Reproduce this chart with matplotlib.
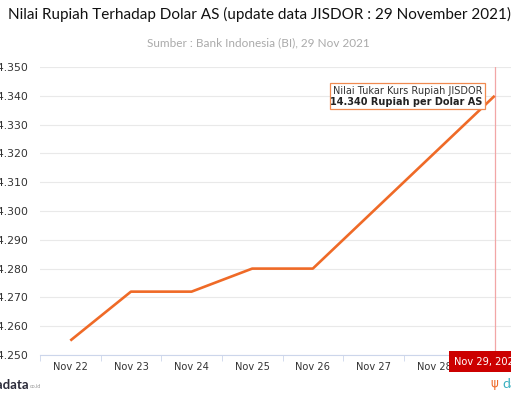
import matplotlib
matplotlib.use("Agg")
import matplotlib.pyplot as plt
import matplotlib.dates as mdates
import pandas as pd

# JISDOR rate, weekdays only (Nov 27-28 weekend)
dates = pd.to_datetime(["2021-11-22", "2021-11-23", "2021-11-24",
                        "2021-11-25", "2021-11-26", "2021-11-29"])
kurs = [14255, 14272, 14272, 14280, 14280, 14340]
tick_days = pd.date_range("2021-11-22", "2021-11-29", freq="D")
y_ticks = list(range(14250, 14351, 10))

W, H = 511, 398
fig = plt.figure(figsize=(W / 100, H / 100), dpi=100)
ax = fig.add_axes([40 / W, 43 / H, 485 / W, 288 / H])

orange = "#ef6a27"
ax.plot(dates, kurs, color=orange, lw=1.9, solid_capstyle="butt", zorder=3)

x0 = mdates.date2num(pd.Timestamp("2021-11-21 12:00"))
x1 = mdates.date2num(pd.Timestamp("2021-11-29 12:00"))
ax.set_xlim(x0, x1)
ax.set_ylim(14250, 14350)

ax.set_yticks(y_ticks)
ax.set_yticklabels([f"{v:,}".replace(",", ".") for v in y_ticks])
ax.grid(axis="y", color="#e9e9e9", lw=0.8)
ax.set_axisbelow(True)

ax.set_xticks(mdates.date2num(tick_days))
ax.set_xticklabels([d.strftime("%b %d") for d in tick_days])
ax.set_xticks(mdates.date2num(tick_days) - 0.5, minor=True)
ax.tick_params(axis="x", which="major", length=0, pad=5, labelsize=7.1, labelcolor="#333333")
ax.tick_params(axis="x", which="minor", length=4, color="#ccd6eb")
ax.tick_params(axis="y", length=0, pad=8, labelsize=7.8, labelcolor="#333333")

for s in ["top", "right", "left"]:
    ax.spines[s].set_visible(False)
ax.spines["bottom"].set_color("#ccd6eb")

# crosshair at last point
last = mdates.date2num(dates[-1])
ax.axvline(last, color="#f2a6a6", lw=0.9, zorder=2)

# tooltip
ax.annotate("Nilai Tukar Kurs Rupiah JISDOR\n", xy=(last, kurs[-1]),
            xytext=(-9, 0), textcoords="offset points", ha="right", va="center",
            fontsize=7.0, color="#333333", linespacing=1.05,
            bbox=dict(boxstyle="square,pad=0.3", fc="white", ec="#f08a50", lw=0.9),
            zorder=5)
ax.annotate("14.340 Rupiah per Dolar AS", xy=(last, kurs[-1]),
            xytext=(-9, -4.5), textcoords="offset points", ha="right", va="center",
            fontsize=7.0, color="#222222", fontweight="bold", zorder=6)

# date label on crosshair
fig.text(454 / W, 1 - 361.5 / H, "Nov 29, 2021", color="white", fontsize=7.1,
         va="center", ha="left",
         bbox=dict(boxstyle="square,pad=0.55", fc="#cc0000", ec="none"), zorder=10)

fig.text(259 / W, 1 - 14 / H,
         "Nilai Rupiah Terhadap Dolar AS (update data JISDOR : 29 November 2021)",
         ha="center", va="center", fontsize=11, family="Lato", color="#111111")
fig.text(258 / W, 1 - 43 / H, "Sumber : Bank Indonesia (BI), 29 Nov 2021",
         ha="center", va="center", fontsize=8.5, family="Lato", color="#aaaaaa")

# watermarks
fig.text(29 / W, 1 - 385 / H, "katadata", ha="right", va="center",
         fontsize=9.5, fontweight="bold", family="Lato", color="#2b2b3a")
fig.text(30 / W, 1 - 387 / H, "co.id", ha="left", va="center",
         fontsize=4, family="Lato", color="#999999")
fig.text(502 / W, 1 - 384 / H, "databoks", ha="left", va="center",
         fontsize=10, family="Lato", color="#3ab0c0")
fig.text(490 / W, 1 - 384 / H, "ψ", ha="left", va="center",
         fontsize=8.5, color="#ef6a27")

fig.savefig("out.png", dpi=100)
